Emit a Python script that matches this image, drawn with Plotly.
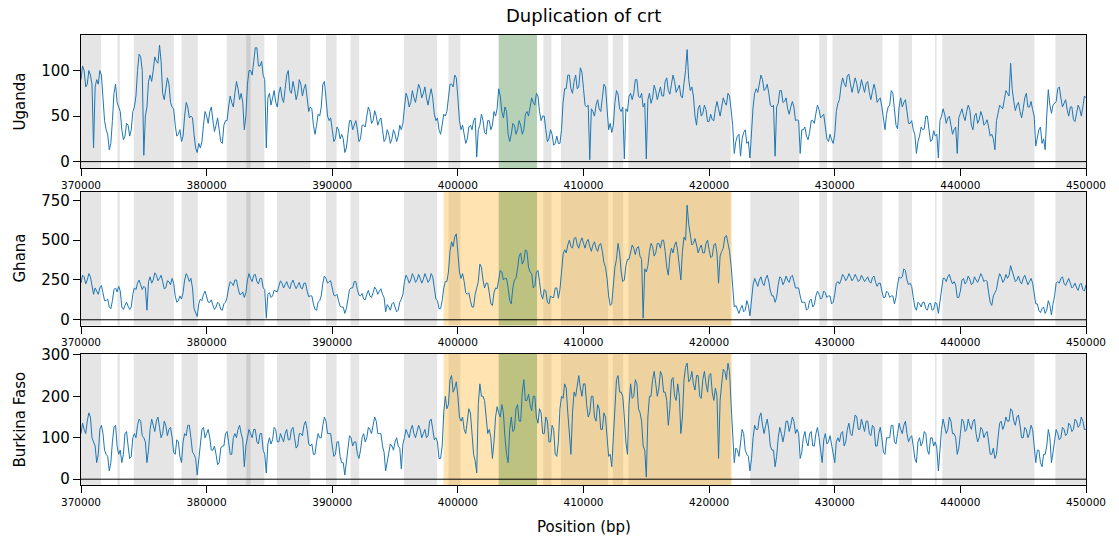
import numpy as np
import plotly.graph_objects as go

# ---------------- data ----------------
# coverage read every 250 bp, plus readings half-way between (noise band)
positions = np.arange(370000, 450001, 250)
half_positions = np.arange(370125, 450000, 250)

uganda = [
    90, 100, 85, 95, 15, 90, 100, 70, 35, 13,
    45, 85, 60, 35, 28, 40, 35, 60, 100, 115,
    7, 60, 95, 100, 110, 128, 75, 80, 85, 60,
    40, 30, 22, 50, 60, 50, 30, 10, 15, 40,
    50, 55, 45, 40, 35, 20, 45, 60, 65, 75,
    80, 75, 35, 85, 100, 110, 125, 105, 95, 15,
    75, 70, 65, 75, 70, 80, 100, 75, 80, 75,
    85, 80, 70, 60, 40, 40, 50, 85, 70, 45,
    35, 25, 35, 30, 10, 30, 45, 40, 35, 25,
    40, 50, 55, 45, 50, 45, 35, 25, 30, 25,
    30, 28, 35, 60, 70, 65, 70, 75, 80, 75,
    70, 72, 70, 45, 35, 40, 50, 70, 85, 95,
    70, 35, 30, 25, 40, 45, 5, 40, 45, 30,
    45, 40, 50, 80, 55, 60, 30, 30, 40, 35,
    40, 35, 55, 60, 65, 75, 55, 50, 35, 25,
    30, 20, 20, 35, 80, 95, 80, 88, 80, 103,
    80, 60, 2, 55, 62, 58, 70, 82, 35, 32,
    65, 74, 55, 3, 55, 75, 75, 90, 70, 60,
    3, 75, 70, 78, 75, 72, 88, 78, 85, 88,
    80, 72, 86, 123, 78, 72, 40, 62, 53, 57,
    44, 46, 58, 58, 60, 65, 75, 57, 9, 28,
    6, 32, 20, 4, 60, 80, 85, 90, 80, 75,
    60, 6, 64, 78, 66, 58, 60, 60, 46, 9,
    35, 28, 32, 45, 53, 57, 50, 38, 22, 24,
    30, 64, 83, 86, 94, 85, 84, 86, 80, 83,
    86, 76, 77, 78, 68, 60, 35, 60, 78, 58,
    36, 70, 65, 55, 42, 35, 9, 28, 35, 50,
    35, 24, 28, 4, 50, 52, 48, 40, 35, 9,
    53, 50, 55, 57, 35, 53, 46, 50, 42, 38,
    30, 13, 53, 60, 68, 75, 108, 66, 62, 55,
    58, 75, 60, 57, 17, 35, 20, 13, 79, 53,
    64, 80, 70, 64, 57, 60, 46, 53, 58, 60, 70,
]
uganda_half = [
    105, 82, 100, 85, 82, 85, 95, 45, 30, 20,
    75, 65, 55, 24, 42, 28, 55, 72, 118, 100,
    50, 88, 88, 115, 108, 110, 68, 92, 65, 58,
    28, 35, 28, 65, 48, 48, 15, 20, 22, 55,
    42, 60, 33, 48, 22, 40, 45, 72, 60, 88,
    68, 65, 50, 100, 95, 125, 105, 110, 90, 70,
    62, 78, 60, 82, 65, 95, 78, 88, 68, 90,
    72, 85, 55, 58, 30, 52, 60, 88, 50, 48,
    22, 38, 25, 25, 15, 45, 35, 45, 22, 40,
    38, 60, 42, 56, 40, 48, 22, 35, 20, 35,
    22, 40, 42, 75, 60, 78, 65, 85, 70, 82,
    62, 80, 52, 48, 30, 52, 55, 85, 82, 92,
    45, 40, 20, 38, 35, 48, 35, 52, 32, 45,
    35, 55, 58, 72, 48, 55, 22, 42, 30, 45,
    30, 52, 50, 70, 62, 72, 45, 50, 22, 35,
    18, 28, 20, 65, 80, 95, 75, 95, 82, 98,
    62, 62, 58, 50, 68, 55, 85, 52, 42, 40,
    78, 58, 60, 58, 72, 68, 90, 72, 75, 64,
    68, 64, 84, 68, 82, 72, 92, 74, 95, 76,
    84, 70, 100, 90, 82, 50, 58, 50, 62, 44,
    52, 45, 66, 50, 70, 62, 72, 40, 22, 30,
    25, 35, 22, 40, 75, 76, 95, 78, 85, 62,
    62, 60, 78, 65, 70, 52, 66, 45, 45, 35,
    38, 24, 45, 42, 62, 48, 52, 25, 30, 20,
    55, 68, 92, 82, 96, 76, 92, 75, 90, 76,
    88, 68, 85, 65, 70, 45, 52, 62, 75, 40,
    60, 60, 68, 42, 45, 30, 22, 38, 36, 50,
    22, 34, 30, 45, 58, 42, 50, 30, 38, 48,
    58, 45, 62, 40, 50, 42, 55, 40, 46, 28,
    25, 45, 62, 58, 78, 72, 80, 56, 65, 48,
    70, 60, 66, 50, 25, 38, 25, 50, 62, 62,
    66, 82, 60, 68, 50, 60, 44, 62, 50, 72,
]

ghana = [
    230, 270, 250, 270, 160, 180, 200, 170, 120, 80,
    120, 200, 210, 80, 90, 85, 80, 200, 230, 220,
    210, 60, 270, 250, 280, 260, 240, 200, 240, 260,
    150, 120, 130, 250, 270, 260, 70, 20, 130, 160,
    150, 110, 90, 80, 100, 60, 110, 200, 230, 250,
    200, 160, 140, 250, 260, 280, 240, 260, 200, 10,
    170, 150, 180, 210, 230, 220, 210, 230, 220, 215,
    200, 230, 180, 150, 100, 60, 120, 230, 260, 240,
    200, 150, 120, 80, 40, 130, 200, 240, 190, 150,
    130, 160, 150, 170, 190, 180, 160, 50, 80, 100,
    80, 60, 130, 240, 260, 250, 270, 250, 260, 255,
    265, 250, 270, 130, 70, 120, 240, 300, 490, 520,
    400, 260, 240, 160, 120, 80, 200, 350, 250, 230,
    170, 90, 200, 250, 300, 260, 200, 100, 250, 320,
    420, 370, 430, 300, 200, 300, 240, 130, 180, 100,
    140, 200, 135, 300, 440, 470, 460, 510, 470, 490,
    480, 490, 460, 470, 450, 470, 430, 330, 150, 100,
    330, 480, 300, 250, 380, 430, 450, 450, 400, 10,
    300, 430, 460, 420, 480, 500, 430, 280, 450, 470,
    430, 250, 520, 720, 520, 480, 470, 450, 420, 480,
    440, 400, 480, 230, 430, 520, 480, 340, 80, 60,
    70, 50, 120, 25, 220, 230, 250, 230, 260, 240,
    150, 110, 220, 260, 240, 250, 270, 240, 200, 150,
    110, 60, 120, 80, 150, 160, 140, 170, 150, 100,
    160, 240, 250, 270, 260, 270, 260, 265, 250, 260,
    255, 240, 265, 235, 230, 180, 140, 170, 150, 100,
    220, 260, 320, 250, 230, 140, 60, 100, 110, 70,
    100, 60, 110, 40, 200, 260, 270, 250, 240, 140,
    180, 260, 240, 255, 230, 250, 260, 270, 250, 170,
    90, 170, 250, 270, 250, 260, 340, 270, 250, 240,
    260, 250, 240, 230, 100, 60, 70, 40, 120, 30,
    150, 240, 260, 230, 240, 230, 210, 200, 220, 190, 220,
]
ghana_half = [
    280, 225, 290, 200, 200, 160, 215, 120, 130, 70,
    190, 175, 180, 65, 110, 65, 160, 190, 250, 190,
    200, 240, 230, 295, 245, 280, 195, 245, 220, 230,
    110, 150, 170, 290, 240, 200, 40, 100, 120, 180,
    110, 125, 65, 110, 65, 100, 140, 240, 215, 250,
    160, 175, 170, 290, 240, 285, 225, 260, 190, 160,
    140, 185, 175, 245, 200, 240, 195, 250, 195, 235,
    195, 230, 145, 150, 65, 110, 150, 275, 230, 245,
    155, 160, 85, 80, 70, 190, 200, 240, 155, 165,
    125, 185, 140, 205, 160, 195, 140, 95, 60, 110,
    50, 110, 160, 280, 230, 290, 235, 285, 230, 290,
    235, 290, 180, 120, 70, 200, 240, 430, 460, 540,
    300, 290, 170, 170, 80, 160, 240, 330, 200, 230,
    100, 170, 195, 310, 250, 260, 120, 200, 260, 400,
    350, 440, 330, 290, 210, 310, 160, 190, 110, 150,
    140, 200, 190, 410, 420, 500, 450, 520, 450, 515,
    450, 505, 430, 490, 430, 480, 360, 260, 90, 240,
    380, 420, 240, 340, 380, 470, 410, 460, 380, 320,
    340, 480, 400, 480, 450, 500, 330, 400, 420, 490,
    330, 430, 500, 600, 470, 510, 420, 470, 420, 500,
    390, 470, 420, 400, 450, 530, 430, 200, 90, 40,
    90, 60, 90, 150, 260, 210, 270, 215, 280, 180,
    150, 140, 270, 220, 275, 235, 280, 200, 200, 110,
    110, 70, 130, 95, 180, 130, 180, 140, 150, 110,
    230, 225, 285, 245, 290, 245, 285, 240, 280, 240,
    270, 230, 275, 210, 230, 140, 180, 140, 150, 140,
    270, 270, 310, 220, 210, 80, 110, 80, 110, 60,
    105, 65, 100, 110, 260, 240, 285, 225, 220, 140,
    250, 225, 275, 220, 270, 235, 290, 240, 240, 110,
    150, 190, 290, 235, 285, 280, 310, 240, 275, 225,
    280, 220, 260, 150, 100, 45, 80, 60, 90, 100,
    230, 230, 270, 215, 260, 200, 230, 185, 230, 180,
]

burkina = [
    110, 120, 140, 150, 90, 40, 120, 110, 60, 20,
    90, 130, 60, 40, 110, 80, 55, 110, 130, 140,
    100, 40, 120, 130, 140, 125, 110, 130, 120, 100,
    60, 90, 40, 110, 130, 100, 60, 10, 90, 125,
    110, 100, 70, 60, 40, 80, 110, 90, 60, 110,
    120, 110, 30, 100, 110, 120, 90, 110, 70, 15,
    100, 95, 120, 90, 100, 110, 95, 120, 100, 80,
    110, 130, 120, 80, 60, 90, 100, 130, 140, 110,
    80, 60, 90, 40, 10, 80, 100, 90, 60, 70,
    110, 100, 120, 130, 140, 110, 80, 20, 60, 80,
    90, 80, 25, 100, 110, 120, 110, 115, 120, 110,
    100, 140, 120, 100, 50, 80, 200, 180, 250, 220,
    200, 140, 120, 140, 160, 60, 15, 230, 200, 140,
    120, 50, 150, 160, 180, 100, 40, 150, 120, 180,
    140, 240, 190, 180, 200, 150, 170, 110, 150, 90,
    130, 60, 90, 200, 230, 160, 60, 210, 230, 220,
    230, 180, 160, 200, 140, 170, 120, 150, 55, 30,
    180, 250, 210, 150, 60, 230, 200, 230, 160, 80,
    5, 200, 240, 230, 220, 250, 210, 130, 240, 200,
    230, 110, 240, 280, 240, 230, 250, 200, 240, 230,
    250, 210, 220, 50, 230, 260, 280, 180, 40, 70,
    90, 110, 60, 20, 100, 120, 150, 130, 130, 120,
    70, 30, 100, 110, 110, 140, 130, 140, 120, 50,
    100, 90, 110, 80, 110, 100, 40, 110, 90, 80,
    40, 100, 110, 80, 120, 110, 130, 150, 120, 130,
    140, 110, 130, 80, 110, 100, 60, 100, 130, 90,
    110, 120, 130, 110, 100, 80, 40, 100, 90, 110,
    60, 100, 90, 20, 120, 130, 120, 140, 110, 60,
    110, 140, 120, 130, 140, 110, 100, 120, 110, 90,
    60, 50, 100, 140, 130, 140, 170, 140, 150, 130,
    100, 120, 110, 120, 40, 70, 30, 60, 120, 40,
    100, 110, 100, 120, 110, 130, 120, 140, 130, 140, 120,
]
burkina_half = [
    135, 110, 160, 100, 80, 60, 130, 70, 55, 40,
    125, 80, 70, 60, 115, 50, 100, 100, 145, 105,
    90, 70, 145, 115, 150, 100, 140, 105, 125, 65,
    95, 55, 90, 105, 130, 65, 50, 45, 120, 100,
    120, 70, 80, 35, 75, 80, 115, 60, 100, 100,
    130, 95, 80, 120, 100, 120, 85, 110, 60, 85,
    85, 125, 90, 110, 90, 120, 95, 125, 75, 110,
    105, 140, 85, 85, 60, 110, 100, 150, 110, 110,
    55, 90, 55, 40, 40, 105, 80, 90, 50, 100,
    90, 125, 110, 150, 110, 110, 65, 45, 85, 70,
    100, 75, 85, 120, 100, 130, 100, 130, 100, 120,
    105, 145, 95, 90, 50, 160, 170, 240, 210, 235,
    150, 150, 110, 170, 100, 45, 180, 200, 190, 110,
    100, 90, 175, 150, 160, 60, 120, 115, 170, 140,
    210, 190, 205, 165, 200, 135, 160, 110, 140, 90,
    120, 55, 170, 195, 220, 100, 160, 200, 250, 200,
    230, 150, 200, 150, 180, 120, 160, 90, 60, 100,
    240, 210, 200, 90, 180, 195, 240, 170, 140, 70,
    150, 200, 260, 200, 260, 210, 190, 170, 245, 190,
    200, 150, 270, 235, 260, 215, 250, 195, 260, 210,
    255, 190, 200, 190, 265, 240, 260, 120, 75, 55,
    120, 70, 55, 50, 130, 120, 160, 110, 145, 80,
    70, 55, 125, 90, 140, 115, 150, 110, 110, 65,
    115, 80, 115, 80, 125, 65, 95, 85, 105, 55,
    90, 90, 115, 90, 135, 105, 155, 120, 145, 115,
    140, 105, 125, 80, 125, 65, 100, 100, 130, 85,
    135, 110, 140, 90, 105, 50, 90, 80, 115, 70,
    100, 80, 75, 80, 145, 110, 150, 110, 100, 75,
    145, 115, 145, 120, 145, 90, 125, 100, 115, 60,
    75, 60, 135, 120, 150, 140, 165, 130, 155, 100,
    125, 100, 130, 80, 70, 40, 60, 80, 100, 65,
    120, 95, 125, 105, 135, 115, 145, 125, 150, 120,
]

gene_starts = [369500, 372900, 374200, 378000, 381600, 383150, 385600, 389500,
               391450, 395700, 399250, 403250, 406800, 408200, 412330, 413570,
               423270, 428770, 429820, 435090, 437970, 438560, 447560]
gene_ends = [371600, 373100, 377400, 379300, 384600, 383500, 388250, 390350,
             392150, 398350, 400200, 406300, 407450, 411970, 413160, 421720,
             427180, 429390, 433800, 436150, 438110, 445900, 450500]

crt_region = (403250, 406300)
dup_region = (398860, 421800)

panel_names = ["Uganda", "Ghana", "Burkina Faso"]
panel_values = [uganda, ghana, burkina]
panel_half_values = [uganda_half, ghana_half, burkina_half]
panel_ranges = [[-7, 139], [-36, 806], [-14, 302]]
panel_ticks = [[0, 50, 100], [0, 250, 500, 750], [0, 100, 200, 300]]
panel_has_dup = [False, True, True]
x_ticks = list(range(370000, 450001, 10000))

for v, hv in zip(panel_values, panel_half_values):
    assert len(v) == len(positions), len(v)
    assert len(hv) == len(half_positions), len(hv)


def merge(full, half):
    xs = np.empty(len(positions) + len(half_positions))
    ys = np.empty_like(xs)
    xs[0::2] = positions
    xs[1::2] = half_positions
    ys[0::2] = full
    ys[1::2] = half
    return xs, ys


# ---------------- figure ----------------
W, H = 1119, 539
left_px, right_px = 81, 1086
panel_px = [(35, 168), (191.5, 325.5), (354, 485)]

FONT = "DejaVu Sans"
fig = go.Figure()
shapes = []
annotations = []

for k, name in enumerate(panel_names):
    n = k + 1
    xa = "x" if n == 1 else f"x{n}"
    ya = "y" if n == 1 else f"y{n}"
    xs, ys = merge(panel_values[k], panel_half_values[k])
    fig.add_trace(go.Scatter(
        x=xs, y=ys, mode="lines",
        line=dict(color="#1f77b4", width=1),
        xaxis=xa, yaxis=ya, showlegend=False, hoverinfo="skip"))

    top, bot = panel_px[k]
    dom = [1 - bot / H, 1 - top / H]
    axis_common = dict(showline=True, linecolor="#000000", linewidth=1.3, mirror=True,
                       ticks="outside", ticklen=7, tickwidth=1.3, tickcolor="#000000",
                       showgrid=False, zeroline=False, automargin=False)
    fig.update_layout(**{
        ("xaxis" if n == 1 else f"xaxis{n}"): dict(
            domain=[left_px / W, right_px / W], range=[370000, 450000],
            anchor=ya, tickvals=x_ticks, ticktext=[str(t) for t in x_ticks],
            tickfont=dict(family=FONT, size=10.5, color="#000000"), **axis_common),
        ("yaxis" if n == 1 else f"yaxis{n}"): dict(
            domain=dom, range=panel_ranges[k], anchor=xa,
            tickvals=panel_ticks[k],
            tickfont=dict(family=FONT, size=15, color="#000000"), **axis_common),
    })

    xd = f"{xa} domain"
    yd = f"{ya} domain"
    for s, e in zip(gene_starts, gene_ends):
        shapes.append(dict(type="rect", xref=xa, yref=yd, x0=s, x1=e, y0=0, y1=1,
                           fillcolor="rgba(0,0,0,0.1)", line=dict(width=0), layer="below"))
    if panel_has_dup[k]:
        shapes.append(dict(type="rect", xref=xa, yref=yd, x0=dup_region[0], x1=dup_region[1],
                           y0=0, y1=1, fillcolor="rgba(255,165,0,0.3)", line=dict(width=0),
                           layer="below"))
    shapes.append(dict(type="rect", xref=xa, yref=yd, x0=crt_region[0], x1=crt_region[1],
                       y0=0, y1=1, fillcolor="rgba(0,128,0,0.2)", line=dict(width=0),
                       layer="below"))
    shapes.append(dict(type="line", xref=xd, yref=ya, x0=0, x1=1, y0=0, y1=0,
                       line=dict(color="#000000", width=1), layer="above"))

    annotations.append(dict(text=name, textangle=-90, xref="paper", yref="paper",
                            x=19 / W, y=(dom[0] + dom[1]) / 2, showarrow=False,
                            xanchor="center", yanchor="middle",
                            font=dict(family=FONT, size=15, color="#000000")))

annotations.append(dict(text="Duplication of crt", xref="paper", yref="paper",
                        x=(left_px + right_px) / 2 / W, y=1 - 16 / H, showarrow=False,
                        xanchor="center", yanchor="middle",
                        font=dict(family=FONT, size=18, color="#000000")))
annotations.append(dict(text="Position (bp)", xref="paper", yref="paper",
                        x=(left_px + right_px) / 2 / W, y=1 - 527 / H, showarrow=False,
                        xanchor="center", yanchor="middle",
                        font=dict(family=FONT, size=15, color="#000000")))

fig.update_layout(width=W, height=H, margin=dict(l=0, r=0, t=0, b=0),
                  paper_bgcolor="white", plot_bgcolor="white",
                  shapes=shapes, annotations=annotations,
                  font=dict(family=FONT))

fig.write_html("out.html")
